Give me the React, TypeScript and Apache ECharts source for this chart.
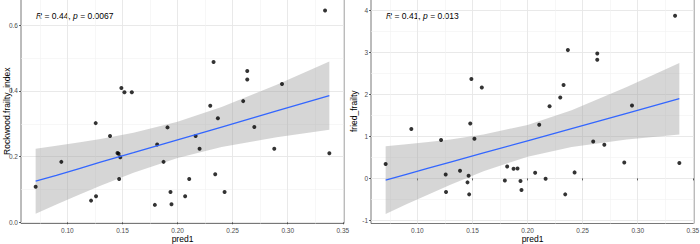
import React, { useEffect, useRef } from "react";
import * as echarts from "echarts";

const pred1 = [
  0.0712, 0.0945, 0.1215, 0.1257, 0.126, 0.1387, 0.1455, 0.1465, 0.147, 0.148,
  0.149, 0.1518, 0.1585, 0.1794, 0.1815, 0.1873, 0.1909, 0.1936, 0.1945, 0.2069,
  0.2106, 0.2164, 0.22, 0.2297, 0.2327, 0.2342, 0.2366, 0.2427, 0.2596, 0.2633,
  0.2633, 0.2697, 0.2878, 0.2948, 0.3339, 0.3378,
];
const rockwood = [
  0.108, 0.184, 0.066, 0.302, 0.079, 0.263, 0.211, 0.209, 0.132, 0.198,
  0.409, 0.396, 0.396, 0.053, 0.237, 0.184, 0.289, 0.092, 0.055, 0.079,
  0.132, 0.263, 0.224, 0.355, 0.488, 0.146, 0.317, 0.092, 0.369, 0.461,
  0.435, 0.29, 0.224, 0.421, 0.645, 0.21,
];
const fried = [
  0.343, 1.176, 0.914, 0.095, -0.324, 0.183, -0.095, 0.064, -0.381, 1.31,
  2.37, 0.945, 2.17, -0.048, 0.286, 0.231, 0.238, -0.063, -0.276, 0.136,
  1.28, -0.007, 1.72, 1.93, 2.23, -0.381, 3.06, 0.143, 0.881, 2.98,
  2.83, 0.8, 0.381, 1.74, 3.88, 0.367,
];

// linear fit with 95% band
const smoothX = [0.0712, 0.09, 0.11, 0.13, 0.16, 0.2, 0.24, 0.29, 0.3378];
const rockFit = [0.125, 0.143, 0.163, 0.183, 0.212, 0.251, 0.29, 0.339, 0.386];
const rockUpper = [0.224, 0.233, 0.243, 0.254, 0.273, 0.306, 0.351, 0.419, 0.49];
const rockLower = [0.026, 0.054, 0.083, 0.111, 0.151, 0.196, 0.229, 0.259, 0.282];
const friedFit = [-0.04, 0.097, 0.242, 0.388, 0.606, 0.897, 1.188, 1.552, 1.9];
const friedUpper = [0.767, 0.813, 0.867, 0.929, 1.044, 1.275, 1.627, 2.179, 2.753];
const friedLower = [-0.847, -0.619, -0.383, -0.153, 0.168, 0.519, 0.749, 0.925, 1.047];

const xTicks = [0.1, 0.15, 0.2, 0.25, 0.3, 0.35];
const xMinor = [0.075, 0.125, 0.175, 0.225, 0.275, 0.325];
const yTicksLeft = [0.0, 0.2, 0.4, 0.6];
const yMinorLeft = [0.1, 0.3, 0.5];
const yTicksRight = [-1, 0, 1, 2, 3, 4];
const yMinorRight = [-0.5, 0.5, 1.5, 2.5, 3.5];
const yNames = ["Rockwood.frailty_index", "fried_frailty"];
const rValues = ["0.44", "0.41"];
const pValues = ["0.0067", "0.013"];

const FONT = "Liberation Sans, Arial, sans-serif";

export default function App() {
  const ref = useRef<HTMLDivElement>(null);
  useEffect(() => {
    if (!ref.current) return;
    const chart = echarts.init(ref.current, undefined, { renderer: "svg" });
    const ys = [rockwood, fried];
    const fits = [
      { line: rockFit, upper: rockUpper, lower: rockLower },
      { line: friedFit, upper: friedUpper, lower: friedLower },
    ];
    const grids = [
      { left: 21, top: -1, width: 323, height: 224.5 },
      { left: 371, top: -1, width: 323, height: 224.5 },
    ].map((g) => ({
      ...g, show: true, borderColor: "#555", borderWidth: 0.8, backgroundColor: "transparent",
      containLabel: false, outerBoundsMode: "none",
    }));

    const xAxis: any[] = [];
    const yAxis: any[] = [];
    const yRanges = [
      [-0.0037, 0.68],
      [-1.076, 4.279],
    ];
    const yMajor = [yTicksLeft, yTicksRight];
    const yMin = [yMinorLeft, yMinorRight];
    const yFmt = [(v: number) => v.toFixed(1), (v: number) => String(v)];
    const yGaps = [9.5, 12.5];
    for (let g = 0; g < 2; g++) {
      xAxis.push({
        type: "value", gridIndex: g, min: 0.0579, max: 0.3511,
        axisLine: { show: false },
        axisTick: { show: true, length: 2, lineStyle: { color: "#333", width: 0.8 }, customValues: xTicks },
        axisLabel: { customValues: xTicks, formatter: (v: number) => v.toFixed(2), fontSize: 6.5, color: "#4d4d4d", margin: 3, fontFamily: FONT },
        splitLine: { show: true, lineStyle: { color: "#e6e6e6", width: 0.9 } },
        name: "pred1", nameLocation: "middle", nameGap: 11, nameMoveOverlap: false,
        nameTextStyle: { fontSize: 8.5, color: "#000", fontFamily: FONT },
      });
      xAxis.push({
        type: "value", gridIndex: g, min: 0.0579, max: 0.3511,
        axisLine: { show: false },
        axisTick: { show: false, customValues: xMinor },
        axisLabel: { show: false, customValues: xMinor },
        splitLine: { show: true, lineStyle: { color: "#f1f1f1", width: 0.6 } },
      });
      yAxis.push({
        type: "value", gridIndex: g, min: yRanges[g][0], max: yRanges[g][1],
        axisLine: { show: false },
        axisTick: { show: true, length: 2, lineStyle: { color: "#333", width: 0.8 }, customValues: yMajor[g] },
        axisLabel: { customValues: yMajor[g], formatter: yFmt[g], fontSize: 6.5, color: "#4d4d4d", margin: 3, fontFamily: FONT },
        splitLine: { show: true, lineStyle: { color: "#e6e6e6", width: 0.9 } },
        name: yNames[g], nameLocation: "middle", nameGap: yGaps[g], nameRotate: 90, nameMoveOverlap: false,
        nameTextStyle: { fontSize: 8.5, color: "#000", fontFamily: FONT },
      });
      yAxis.push({
        type: "value", gridIndex: g, min: yRanges[g][0], max: yRanges[g][1],
        axisLine: { show: false },
        axisTick: { show: false, customValues: yMin[g] },
        axisLabel: { show: false, customValues: yMin[g] },
        splitLine: { show: true, lineStyle: { color: "#f1f1f1", width: 0.6 } },
      });
    }

    const series: any[] = [];
    for (let g = 0; g < 2; g++) {
      const f = fits[g];
      const up = smoothX.map((x, i) => [x, f.upper[i]]);
      const lo = smoothX.map((x, i) => [x, f.lower[i]]);
      series.push({
        type: "scatter", xAxisIndex: g * 2, yAxisIndex: g * 2,
        data: pred1.map((x, i) => [x, ys[g][i]]),
        symbolSize: 4, itemStyle: { color: "#000" }, silent: true,
      });
      series.push({
        type: "custom", xAxisIndex: g * 2, yAxisIndex: g * 2,
        data: [[smoothX[0], f.line[0]]], silent: true,
        renderItem: (params: any, api: any) => {
          const pts = up.map((p) => api.coord(p)).concat(lo.slice().reverse().map((p) => api.coord(p)));
          return { type: "polygon", shape: { points: pts }, style: { fill: "rgba(153,153,153,0.4)" } };
        },
      });
      series.push({
        type: "line", xAxisIndex: g * 2, yAxisIndex: g * 2,
        data: smoothX.map((x, i) => [x, f.line[i]]), showSymbol: false, symbol: "none", silent: true,
        lineStyle: { color: "#3366FF", width: 1.3 },
      });
    }

    const graphic = [36, 386].map((x, g) => ({
      type: "text", left: x, top: 11,
      style: {
        text: `{i|R} = ${rValues[g]}, {i|p} = ${pValues[g]}`,
        fontSize: 8.5, fill: "#000", fontFamily: FONT,
        rich: { i: { fontStyle: "italic", fontSize: 8.5, fontFamily: FONT, fill: "#000" } },
      },
    }));

    chart.setOption({
      animation: false,
      backgroundColor: "#fff",
      grid: grids,
      xAxis, yAxis, series, graphic,
    });
    return () => chart.dispose();
  }, []);
  return <div ref={ref} style={{ position: "fixed", left: 0, top: 0, width: 700, height: 244 }} />;
}
